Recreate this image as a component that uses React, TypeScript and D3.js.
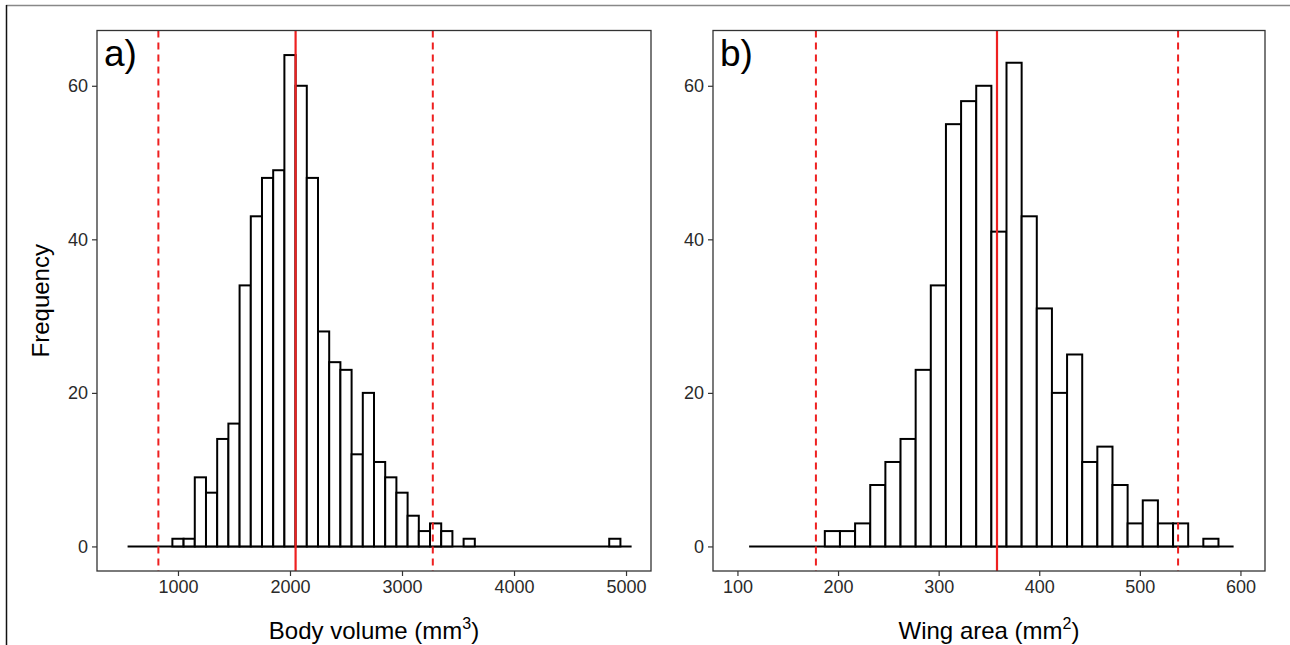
import React, { useEffect, useRef } from "react";
import * as d3 from "d3";

// panel a: body volume, bins of 100 starting at 550
const bodyBinStart = 550;
const bodyBinWidth = 100;
const bodyCounts = [
  0, 0, 0, 0, 1, 1, 9, 7, 14, 16, 34, 43, 48, 49, 64, 60, 48, 28, 24, 23, 12, 20,
  11, 9, 7, 4, 2, 3, 2, 0, 1, 0, 0, 0, 0, 0, 0, 0, 0, 0, 0, 0, 0, 1, 0,
];
const bodyMean = 2050;
const bodyLimits = [825, 3275];
const bodyTicks = [1000, 2000, 3000, 4000, 5000];

// panel b: wing area
const wingBinStart = 111.6;
const wingBinWidth = 15.05;
const wingCounts = [
  0, 0, 0, 0, 0, 2, 2, 3, 8, 11, 14, 23, 34, 55, 58, 60, 41, 63, 43, 31, 20, 25,
  11, 13, 8, 3, 6, 3, 3, 0, 1, 0,
];
const wingMean = 358;
const wingLimits = [178, 538];
const wingTicks = [100, 200, 300, 400, 500, 600];

const freqTicks = [0, 20, 40, 60];

const W = 1290,
  H = 645;

function App() {
  const ref = useRef<SVGSVGElement>(null);

  useEffect(() => {
    const svg = d3.select(ref.current);
    svg.selectAll("*").remove();

    // figure frame
    svg.append("line").attr("x1", 6).attr("x2", W).attr("y1", 5.5).attr("y2", 5.5)
      .attr("stroke", "#888").attr("stroke-width", 1.5);
    svg.append("line").attr("x1", 6.5).attr("x2", 6.5).attr("y1", 5).attr("y2", H)
      .attr("stroke", "#111").attr("stroke-width", 1.5);

    const top = 30.5,
      bottom = 571;
    const y = d3.scaleLinear().domain([-3.2, 67.2]).range([bottom, top]);

    const panels = [
      {
        tag: "a)", left: 97, right: 651, domain: [277, 5223],
        start: bodyBinStart, width: bodyBinWidth, counts: bodyCounts,
        mean: bodyMean, limits: bodyLimits, ticks: bodyTicks,
        label: "Body volume (mm", sup: "3",
      },
      {
        tag: "b)", left: 713, right: 1265, domain: [75.7, 624.4],
        start: wingBinStart, width: wingBinWidth, counts: wingCounts,
        mean: wingMean, limits: wingLimits, ticks: wingTicks,
        label: "Wing area (mm", sup: "2",
      },
    ];

    const font = "'Liberation Sans', Arial, sans-serif";

    panels.forEach((p) => {
      const x = d3.scaleLinear().domain(p.domain).range([p.left, p.right]);
      const g = svg.append("g");

      const bins = p.counts.map((c, i) => ({
        x0: p.start + i * p.width,
        x1: p.start + (i + 1) * p.width,
        n: c,
      }));

      // zero line across all bins
      g.append("line")
        .attr("x1", x(bins[0].x0)).attr("x2", x(bins[bins.length - 1].x1))
        .attr("y1", y(0)).attr("y2", y(0))
        .attr("stroke", "#000").attr("stroke-width", 2);

      g.selectAll("rect.bar")
        .data(bins.filter((d) => d.n > 0))
        .enter()
        .append("rect")
        .attr("class", "bar")
        .attr("x", (d) => x(d.x0))
        .attr("width", (d) => x(d.x1) - x(d.x0))
        .attr("y", (d) => y(d.n))
        .attr("height", (d) => y(0) - y(d.n))
        .attr("fill", "#fff")
        .attr("stroke", "#000")
        .attr("stroke-width", 2);

      // mean and limits
      g.append("line")
        .attr("x1", x(p.mean)).attr("x2", x(p.mean))
        .attr("y1", top).attr("y2", bottom)
        .attr("stroke", "#ee2020").attr("stroke-width", 2.2);
      p.limits.forEach((v) => {
        g.append("line")
          .attr("x1", x(v)).attr("x2", x(v))
          .attr("y1", top).attr("y2", bottom)
          .attr("stroke", "#ee2020").attr("stroke-width", 2)
          .attr("stroke-dasharray", "7,5");
      });

      // panel box
      g.append("rect")
        .attr("x", p.left).attr("y", top)
        .attr("width", p.right - p.left).attr("height", bottom - top)
        .attr("fill", "none").attr("stroke", "#333").attr("stroke-width", 1.3);

      const xAxis = g.append("g")
        .attr("transform", `translate(0,${bottom})`)
        .call(d3.axisBottom(x).tickValues(p.ticks).tickFormat(d3.format("d")).tickSize(5).tickPadding(4));
      const yAxis = g.append("g")
        .attr("transform", `translate(${p.left},0)`)
        .call(d3.axisLeft(y).tickValues(freqTicks).tickSize(5).tickPadding(4));
      [xAxis, yAxis].forEach((a) => {
        a.select(".domain").remove();
        a.selectAll("line").attr("stroke", "#333").attr("stroke-width", 1.2);
        a.selectAll("text").attr("font-family", font).attr("font-size", 18).attr("fill", "#2a2a2a");
      });

      g.append("text")
        .attr("x", p.left + 7).attr("y", 66)
        .attr("font-family", font).attr("font-size", 37).attr("fill", "#000")
        .text(p.tag);

      const t = g.append("text")
        .attr("x", (p.left + p.right) / 2).attr("y", 639)
        .attr("text-anchor", "middle")
        .attr("font-family", font).attr("font-size", 24).attr("fill", "#000");
      t.append("tspan").text(p.label);
      t.append("tspan").attr("dy", -10).attr("font-size", 16).text(p.sup);
      t.append("tspan").attr("dy", 10).text(")");
    });

    svg.append("text")
      .attr("transform", `translate(49,${(top + bottom) / 2}) rotate(-90)`)
      .attr("text-anchor", "middle")
      .attr("font-family", font).attr("font-size", 24).attr("fill", "#000")
      .text("Frequency");
  }, []);

  return (
    <svg
      ref={ref}
      width={W}
      height={H}
      style={{ position: "absolute", left: 0, top: 0, background: "#fff" }}
    />
  );
}

export default App;
